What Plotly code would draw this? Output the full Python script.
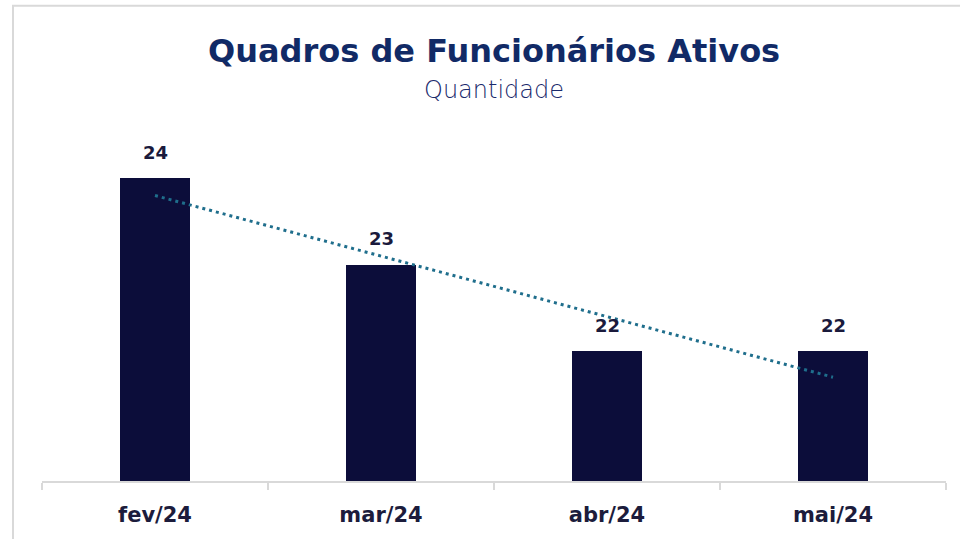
import numpy as np
import plotly.graph_objects as go

categories = ["fev/24", "mar/24", "abr/24", "mai/24"]
values = [24, 23, 22, 22]
title_text = "Quadros de Funcionários Ativos"
subtitle_text = "Quantidade"

# linear trendline (least squares) over the series
idx = np.arange(1, len(values) + 1)
slope, intercept = np.polyfit(idx, values, 1)
trend = slope * idx + intercept

W, H = 960, 539
L, R, T, B = 42, 14, 130, 56
plot_w = W - L - R
plot_h = H - T - B
ymin = 20.5
ymax = ymin + plot_h / 87.0
FONT = "DejaVu Sans"

fig = go.Figure()
fig.add_trace(go.Bar(
    x=categories, y=values, width=0.31,
    marker=dict(color="#0c0d3a", line=dict(width=0)),
    showlegend=False, hoverinfo="skip",
))
fig.add_trace(go.Scatter(
    x=categories, y=trend, mode="lines",
    line=dict(color="#1f6e8c", width=3, dash="3px,4px"),
    showlegend=False, hoverinfo="skip",
))

# data labels above bars
for c, v in zip(categories, values):
    fig.add_annotation(x=c, y=v, text=str(v), showarrow=False,
                       yanchor="middle", yshift=26,
                       font=dict(family=FONT, size=18, color="#1a1a3c", weight="bold"))

# outer frame (light gray, top and left visible)
fx0 = (13 - L) / plot_w
fy1 = (H - B - 5) / plot_h
fig.add_shape(type="rect", xref="paper", yref="paper",
              x0=fx0, x1=1.2, y0=-0.5, y1=fy1,
              line=dict(color="#d9d9d9", width=2), layer="below")

fig.add_annotation(text=title_text, xref="paper", yref="paper",
                   x=0.5, y=(H - B - 51) / plot_h, yanchor="middle", showarrow=False,
                   font=dict(family=FONT, size=32, color="#112a66", weight="bold"))
fig.add_annotation(text=subtitle_text, xref="paper", yref="paper",
                   x=0.5, y=(H - B - 90) / plot_h, yanchor="middle", showarrow=False,
                   font=dict(family=FONT, size=24, color="#1a2a6c", weight=300))

fig.update_layout(
    width=W, height=H,
    margin=dict(l=L, r=R, t=T, b=B, pad=0),
    paper_bgcolor="white", plot_bgcolor="white",
    bargap=0,
    xaxis=dict(type="category", showline=True, linecolor="#d9d9d9", linewidth=2,
               ticks="outside", tickson="boundaries", ticklen=7, tickcolor="#d9d9d9",
               tickwidth=2, showgrid=False, zeroline=False,
               tickfont=dict(family=FONT, size=21, color="#1c1c3c", weight="bold"),
               ticklabelstandoff=14),
    yaxis=dict(range=[ymin, ymax], visible=False, showgrid=False, zeroline=False),
)

fig.write_html("out.html", config={"displayModeBar": False},
               post_script="document.body.style.margin='0';")
